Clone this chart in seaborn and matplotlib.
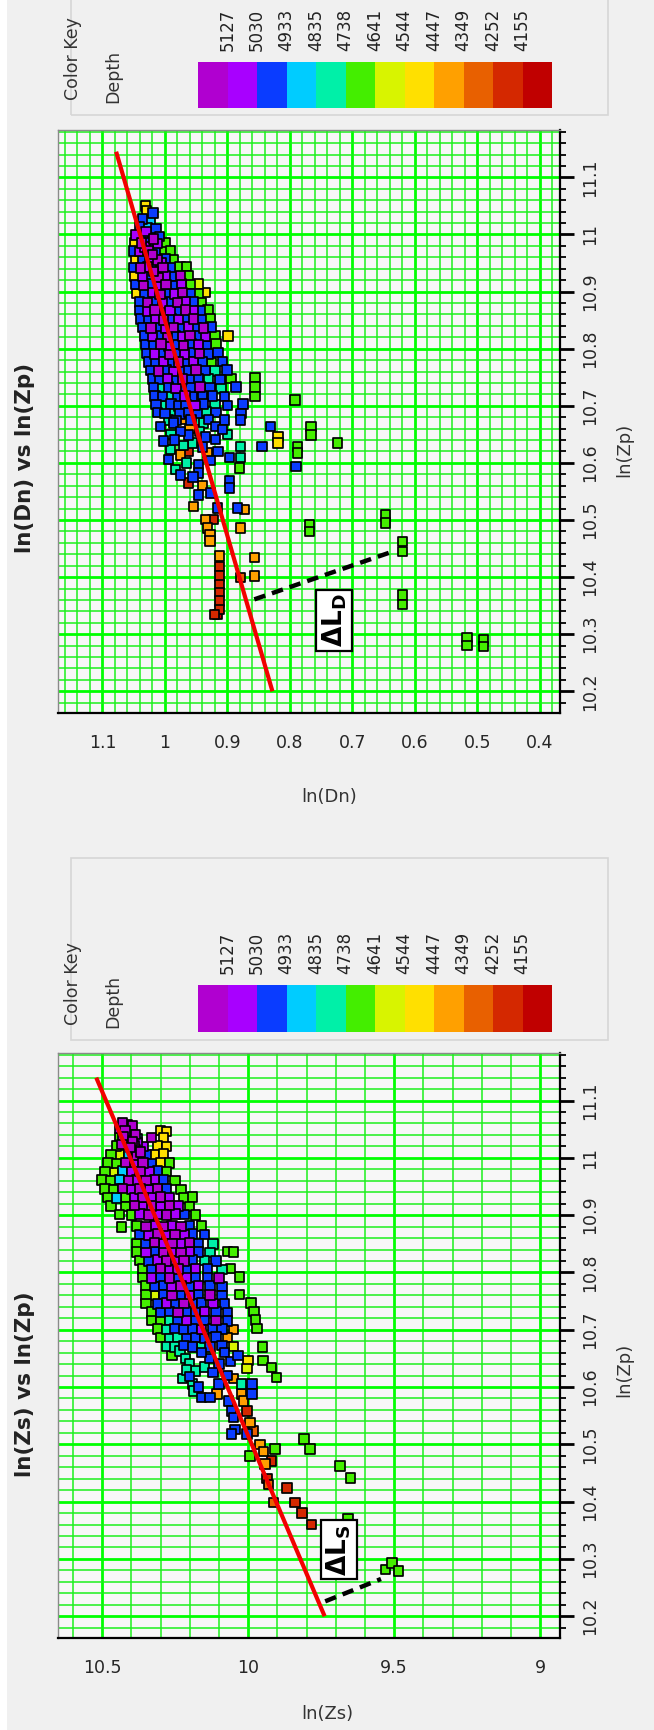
import numpy as np
import pandas as pd
import matplotlib
matplotlib.use("Agg")
import matplotlib.pyplot as plt
from matplotlib.colors import ListedColormap
from matplotlib.patches import Rectangle
from matplotlib.ticker import MultipleLocator, FuncFormatter
import seaborn as sns

W, H = 654, 1730

# ---- colour key: depth class boundaries (deepest first) and colours ----
key_labels = [5127, 5030, 4933, 4835, 4738, 4641, 4544, 4447, 4349, 4252, 4155]
key_colors = ['#b000d0', '#a800ff', '#0a3cff', '#00ccff', '#00f0a8', '#44ee00',
              '#d8f400', '#ffe000', '#ffa000', '#e86000', '#d42800', '#c00000']
# representative depth of each class
M, V, B, C, T, G, YG, Y, O, DO, R, DR = (5175, 5078, 4981, 4884, 4786, 4690,
                                          4592, 4495, 4398, 4300, 4203, 4106)
class_depths = [M, V, B, C, T, G, YG, Y, O, DO, R, DR]

# ---- ln(Dn) vs ln(Zp) samples: (ln Zp, ln Dn, depth) ----
dn_core = [
    (11.050, 1.031, Y),
    (11.041, 1.029, Y), (11.038, 1.019, B),
    (11.027, 1.036, B), (11.024, 1.023, C),
    (11.013, 1.041, B), (11.012, 1.028, C), (11.010, 1.014, B),
    (10.999, 1.046, V), (10.998, 1.034, B), (10.997, 1.022, C), (10.996, 1.009, B),
    (10.986, 1.049, Y), (10.985, 1.037, M), (10.986, 1.025, B), (10.984, 1.012, V), (10.985, 0.999, G),
    (10.971, 1.050, B), (10.970, 1.040, V), (10.972, 1.027, M), (10.970, 1.016, B), (10.969, 1.004, G), (10.971, 0.991, G),
    (10.957, 1.047, Y), (10.956, 1.036, B), (10.958, 1.024, V), (10.955, 1.012, M), (10.957, 1.000, B), (10.956, 0.987, G),
    (10.942, 1.050, B), (10.941, 1.039, M), (10.943, 1.028, V), (10.940, 1.015, B), (10.942, 1.003, M), (10.941, 0.991, B), (10.943, 0.976, G), (10.944, 0.965, G),
    (10.927, 1.048, Y), (10.926, 1.036, V), (10.928, 1.024, B), (10.925, 1.011, M), (10.927, 0.999, V), (10.926, 0.987, B), (10.928, 0.975, M), (10.927, 0.963, G),
    (10.912, 1.046, B), (10.911, 1.034, M), (10.913, 1.022, B), (10.910, 1.010, V), (10.912, 0.998, M), (10.911, 0.986, B), (10.913, 0.973, V), (10.912, 0.959, G), (10.913, 0.946, YG),
    (10.897, 1.045, Y), (10.896, 1.032, B), (10.898, 1.020, V), (10.895, 1.008, M), (10.897, 0.996, B), (10.896, 0.984, V), (10.898, 0.972, M), (10.897, 0.959, B), (10.896, 0.946, G), (10.898, 0.936, Y),
    (10.882, 1.041, B), (10.881, 1.028, M), (10.883, 1.016, B), (10.880, 1.004, V), (10.882, 0.992, B), (10.881, 0.980, M), (10.883, 0.968, V), (10.882, 0.955, B), (10.881, 0.941, G),
    (10.867, 1.040, B), (10.866, 1.028, V), (10.868, 1.016, M), (10.865, 1.004, B), (10.867, 0.992, V), (10.866, 0.980, B), (10.868, 0.967, M), (10.867, 0.955, V), (10.866, 0.943, B), (10.868, 0.931, G),
    (10.852, 1.038, B), (10.851, 1.026, B), (10.853, 1.014, V), (10.850, 1.002, M), (10.852, 0.990, B), (10.851, 0.978, V), (10.853, 0.966, B), (10.852, 0.954, M), (10.851, 0.941, B), (10.853, 0.928, G),
    (10.837, 1.035, B), (10.836, 1.022, M), (10.838, 1.010, B), (10.835, 0.998, V), (10.837, 0.986, M), (10.836, 0.974, B), (10.838, 0.962, V), (10.837, 0.950, B), (10.836, 0.938, M), (10.838, 0.925, B),
    (10.822, 1.032, B), (10.821, 1.020, V), (10.823, 1.008, B), (10.820, 0.996, M), (10.822, 0.984, B), (10.821, 0.972, V), (10.823, 0.960, M), (10.822, 0.948, B), (10.821, 0.935, V), (10.823, 0.920, G), (10.822, 0.899, Y),
    (10.807, 1.030, B), (10.806, 1.018, B), (10.808, 1.006, M), (10.805, 0.994, V), (10.807, 0.982, B), (10.806, 0.970, M), (10.808, 0.958, B), (10.807, 0.946, V), (10.806, 0.933, B), (10.808, 0.918, G),
    (10.792, 1.029, B), (10.791, 1.017, V), (10.793, 1.005, B), (10.790, 0.993, M), (10.792, 0.981, B), (10.791, 0.969, V), (10.793, 0.957, B), (10.792, 0.945, M), (10.791, 0.931, B), (10.793, 0.915, B),
    (10.777, 1.026, B), (10.776, 1.014, B), (10.778, 1.002, V), (10.775, 0.990, B), (10.777, 0.978, M), (10.776, 0.966, B), (10.778, 0.954, V), (10.777, 0.940, B), (10.776, 0.925, G), (10.778, 0.908, B),
    (10.762, 1.022, B), (10.761, 1.010, M), (10.763, 0.998, B), (10.760, 0.986, V), (10.762, 0.974, B), (10.761, 0.962, B), (10.763, 0.950, M), (10.762, 0.936, B), (10.761, 0.920, T), (10.763, 0.901, B),
    (10.747, 1.020, B), (10.746, 1.008, B), (10.748, 0.996, V), (10.745, 0.984, B), (10.747, 0.972, M), (10.746, 0.960, B), (10.748, 0.946, B), (10.747, 0.930, T), (10.746, 0.912, B), (10.748, 0.894, G),
    (10.732, 1.018, B), (10.731, 1.006, T), (10.733, 0.994, B), (10.730, 0.982, V), (10.732, 0.970, B), (10.731, 0.958, B), (10.733, 0.944, M), (10.732, 0.928, B), (10.731, 0.910, T), (10.733, 0.886, B),
    (10.717, 1.016, B), (10.716, 1.004, B), (10.718, 0.992, T), (10.715, 0.980, B), (10.717, 0.968, V), (10.716, 0.956, B), (10.718, 0.940, B), (10.717, 0.924, B), (10.716, 0.905, B),
    (10.702, 1.014, B), (10.701, 1.002, T), (10.703, 0.990, B), (10.700, 0.978, B), (10.702, 0.966, B), (10.701, 0.952, V), (10.703, 0.938, B), (10.702, 0.920, T), (10.701, 0.900, B), (10.703, 0.875, B),
    (10.688, 1.012, B), (10.687, 1.000, B), (10.689, 0.988, T), (10.686, 0.976, B), (10.688, 0.962, B), (10.687, 0.948, B), (10.689, 0.934, T), (10.688, 0.918, B), (10.687, 0.878, B),
    (10.675, 0.994, T), (10.674, 0.982, B), (10.676, 0.970, O), (10.675, 0.958, B), (10.674, 0.945, T), (10.676, 0.930, B), (10.675, 0.905, B),
    # tightly packed samples near the top of the trend
    (11.005, 1.030, V), (10.992, 1.018, M), (10.978, 1.032, V), (10.965, 1.020, M),
    (10.950, 1.006, V), (10.935, 1.018, M),
]
dn_tail = [
    (10.664, 1.007, B), (10.670, 0.986, B), (10.638, 1.002, B), (10.623, 0.991, T),
    (10.614, 0.975, O), (10.620, 0.962, R), (10.606, 0.994, B), (10.588, 0.983, T),
    (10.579, 0.975, B), (10.565, 0.962, R), (10.597, 0.946, B), (10.582, 0.946, B),
    (10.649, 0.962, B), (10.635, 0.956, T), (10.670, 0.938, T), (10.664, 0.919, B),
    (10.641, 0.919, B), (10.658, 0.908, B), (10.675, 0.879, B), (10.609, 0.897, B),
    (10.629, 0.879, T), (10.609, 0.879, T), (10.591, 0.881, G), (10.568, 0.897, B),
    (10.556, 0.897, B), (10.617, 0.932, O), (10.547, 0.927, B), (10.544, 0.946, B),
    (10.655, 0.975, B), (10.650, 0.990, T), (10.640, 0.985, B), (10.630, 0.970, T),
    (10.628, 0.940, B), (10.655, 0.945, T), (10.645, 0.935, B), (10.600, 0.965, T),
    (10.575, 0.955, B), (10.560, 0.940, O), (10.650, 0.900, T), (10.620, 0.915, B),
    (10.660, 0.960, O), (10.604, 0.927, B),
    (10.524, 0.954, O), (10.521, 0.916, B), (10.518, 0.873, O), (10.521, 0.884, B),
    (10.501, 0.935, O), (10.501, 0.923, R), (10.486, 0.932, O), (10.474, 0.928, O),
    (10.463, 0.928, O), (10.486, 0.879, O), (10.437, 0.913, O),
    (10.419, 0.913, R), (10.402, 0.913, R), (10.387, 0.913, R), (10.373, 0.913, R),
    (10.358, 0.913, R), (10.343, 0.913, R), (10.335, 0.921, R), (10.335, 0.916, DR),
    (10.434, 0.857, O), (10.399, 0.879, DO), (10.402, 0.857, O),
]
dn_outliers = [
    (10.750, 0.856, G), (10.733, 0.856, G), (10.716, 0.856, G), (10.710, 0.792, G),
    (10.629, 0.845, B), (10.664, 0.831, B), (10.646, 0.819, Y), (10.635, 0.819, Y),
    (10.629, 0.788, G), (10.617, 0.788, G), (10.594, 0.790, B), (10.664, 0.766, G),
    (10.649, 0.766, G), (10.635, 0.724, G), (10.492, 0.769, G), (10.480, 0.769, G),
    (10.509, 0.647, G), (10.495, 0.647, G), (10.462, 0.620, G), (10.445, 0.620, G),
    (10.369, 0.620, G), (10.352, 0.620, G), (10.294, 0.517, G), (10.280, 0.517, G),
    (10.291, 0.490, G), (10.278, 0.490, G),
]

# ---- ln(Zs) vs ln(Zp) samples: (ln Zp, ln Zs, depth) ----
zs_core = [
    (11.052, 10.425, M), (11.050, 10.405, V), (11.048, 10.300, Y), (11.046, 10.280, Y), (11.055, 10.415, M),
    (11.036, 10.440, G), (11.035, 10.410, M), (11.034, 10.380, C), (11.036, 10.330, M), (11.035, 10.290, Y), (11.040, 10.395, M),
    (11.021, 10.450, G), (11.020, 10.420, Y), (11.022, 10.390, M), (11.020, 10.360, V), (11.021, 10.310, Y), (11.020, 10.280, Y),
    (11.006, 10.470, G), (11.005, 10.440, YG), (11.007, 10.410, C), (11.005, 10.380, M), (11.006, 10.350, B), (11.005, 10.320, Y), (11.007, 10.290, Y),
    (10.991, 10.480, G), (10.990, 10.450, G), (10.992, 10.420, M), (10.990, 10.390, V), (10.991, 10.360, M), (10.990, 10.330, B), (10.992, 10.300, Y), (10.991, 10.270, G),
    (10.976, 10.490, G), (10.975, 10.460, YG), (10.977, 10.430, C), (10.975, 10.400, V), (10.976, 10.370, M), (10.975, 10.340, V), (10.977, 10.310, B), (10.976, 10.280, G),
    (10.961, 10.500, G), (10.960, 10.470, G), (10.962, 10.440, C), (10.960, 10.410, M), (10.961, 10.380, V), (10.960, 10.350, M), (10.962, 10.320, V), (10.961, 10.290, B), (10.960, 10.250, G),
    (10.946, 10.490, G), (10.945, 10.460, G), (10.947, 10.430, M), (10.945, 10.400, V), (10.946, 10.370, M), (10.945, 10.340, V), (10.947, 10.310, M), (10.946, 10.280, B), (10.945, 10.230, G),
    (10.931, 10.480, G), (10.930, 10.450, C), (10.932, 10.420, G), (10.930, 10.390, V), (10.931, 10.360, M), (10.930, 10.330, V), (10.932, 10.300, M), (10.931, 10.270, V), (10.930, 10.220, G), (10.932, 10.190, G),
    (10.916, 10.470, G), (10.915, 10.420, G), (10.917, 10.390, M), (10.915, 10.360, V), (10.916, 10.330, M), (10.915, 10.300, V), (10.917, 10.270, M), (10.916, 10.240, V), (10.915, 10.200, G),
    (10.901, 10.440, G), (10.900, 10.400, G), (10.902, 10.370, V), (10.900, 10.340, M), (10.901, 10.310, V), (10.900, 10.280, M), (10.902, 10.250, V), (10.901, 10.220, B), (10.900, 10.180, G),
    (10.879, 10.433, G), (10.881, 10.380, G), (10.880, 10.350, M), (10.882, 10.320, V), (10.880, 10.290, M), (10.881, 10.260, V), (10.880, 10.230, M), (10.882, 10.200, B), (10.881, 10.160, G),
    (10.866, 10.370, B), (10.865, 10.340, V), (10.867, 10.310, M), (10.865, 10.280, V), (10.866, 10.250, M), (10.865, 10.220, V), (10.867, 10.190, B), (10.866, 10.150, B),
    (10.851, 10.380, G), (10.850, 10.350, B), (10.852, 10.320, M), (10.850, 10.290, V), (10.851, 10.260, M), (10.850, 10.230, V), (10.852, 10.200, M), (10.851, 10.170, B), (10.850, 10.120, T),
    (10.836, 10.380, G), (10.835, 10.350, V), (10.837, 10.320, B), (10.835, 10.290, M), (10.836, 10.260, V), (10.835, 10.230, M), (10.837, 10.200, V), (10.836, 10.170, B), (10.835, 10.130, T), (10.837, 10.070, G), (10.836, 10.050, G),
    (10.821, 10.370, G), (10.820, 10.340, B), (10.822, 10.310, V), (10.820, 10.280, M), (10.821, 10.250, V), (10.820, 10.220, M), (10.822, 10.190, B), (10.821, 10.150, T), (10.820, 10.110, B),
    (10.806, 10.360, G), (10.805, 10.330, B), (10.807, 10.300, M), (10.805, 10.270, V), (10.806, 10.240, M), (10.805, 10.210, B), (10.807, 10.180, V), (10.806, 10.140, B), (10.805, 10.090, T), (10.807, 10.060, G),
    (10.791, 10.360, G), (10.790, 10.330, V), (10.792, 10.300, B), (10.790, 10.270, M), (10.791, 10.240, B), (10.790, 10.210, V), (10.792, 10.180, B), (10.791, 10.140, B), (10.790, 10.100, M), (10.792, 10.030, G),
    (10.776, 10.350, G), (10.775, 10.320, B), (10.777, 10.290, B), (10.775, 10.260, V), (10.776, 10.230, M), (10.775, 10.200, B), (10.777, 10.170, V), (10.776, 10.130, B), (10.775, 10.090, B),
    (10.761, 10.350, G), (10.760, 10.320, YG), (10.762, 10.290, B), (10.760, 10.260, M), (10.761, 10.230, B), (10.760, 10.200, V), (10.762, 10.170, B), (10.761, 10.130, M), (10.760, 10.090, B), (10.762, 10.030, G),
    (10.746, 10.350, G), (10.745, 10.310, B), (10.747, 10.280, V), (10.745, 10.250, B), (10.746, 10.220, M), (10.745, 10.190, B), (10.747, 10.160, B), (10.746, 10.120, V), (10.745, 10.080, B), (10.747, 9.990, G),
    (10.731, 10.330, G), (10.730, 10.300, B), (10.732, 10.270, B), (10.730, 10.240, M), (10.731, 10.210, B), (10.730, 10.180, B), (10.732, 10.150, V), (10.731, 10.110, B), (10.730, 10.070, B), (10.732, 9.980, G),
    (10.716, 10.330, G), (10.715, 10.300, G), (10.717, 10.270, T), (10.715, 10.240, B), (10.716, 10.210, V), (10.715, 10.180, B), (10.717, 10.150, B), (10.716, 10.110, M), (10.715, 10.070, B), (10.717, 9.975, G),
    (10.701, 10.310, G), (10.700, 10.280, T), (10.702, 10.250, B), (10.700, 10.220, B), (10.701, 10.190, B), (10.700, 10.160, V), (10.702, 10.120, B), (10.701, 10.090, B), (10.700, 10.050, O), (10.702, 9.970, G),
    (10.686, 10.300, G), (10.685, 10.270, T), (10.687, 10.240, T), (10.685, 10.210, B), (10.686, 10.180, B), (10.685, 10.150, B), (10.687, 10.110, B), (10.686, 10.070, O),
    (10.671, 10.280, T), (10.670, 10.250, T), (10.672, 10.220, B), (10.670, 10.190, B), (10.671, 10.160, T), (10.670, 10.130, B), (10.672, 10.090, B), (10.671, 10.050, YG), (10.670, 9.950, G),
    # tightly packed samples at the top of the trend
    (11.062, 10.430, M), (11.058, 10.415, V), (11.056, 10.395, M), (11.052, 10.438, V),
    (11.047, 10.422, M), (11.044, 10.402, V), (11.041, 10.385, M), (11.037, 10.428, M),
    (11.032, 10.412, V), (11.029, 10.396, M), (11.026, 10.378, V), (11.023, 10.432, M),
    (11.018, 10.402, M), (11.014, 10.386, V), (11.010, 10.368, M),
]
zs_tail = [
    (10.663, 10.233, T), (10.650, 10.215, T), (10.640, 10.200, T), (10.628, 10.180, T),
    (10.615, 10.225, T), (10.605, 10.190, T), (10.593, 10.188, T), (10.600, 10.170, B),
    (10.582, 10.159, B), (10.582, 10.130, B), (10.605, 10.100, B), (10.588, 10.107, O),
    (10.655, 10.260, G), (10.650, 10.130, B), (10.640, 10.100, B), (10.635, 10.150, T),
    (10.625, 10.120, B), (10.620, 10.070, B), (10.615, 10.050, O), (10.660, 10.080, B),
    (10.660, 10.160, B), (10.645, 10.060, B), (10.630, 10.210, T), (10.618, 10.200, B),
    (10.655, 10.034, B), (10.646, 10.000, Y), (10.632, 10.004, YG),
    (10.605, 10.022, T), (10.605, 9.987, B), (10.588, 9.987, B), (10.588, 10.022, O),
    (10.576, 10.016, O), (10.576, 10.067, B), (10.558, 10.056, B), (10.558, 10.004, R),
    (10.547, 10.050, B), (10.526, 10.045, B), (10.538, 9.993, O), (10.518, 10.056, B),
    (10.518, 10.004, B), (10.523, 9.982, DO), (10.500, 9.959, O), (10.488, 9.948, O),
    (10.492, 9.908, G), (10.480, 9.993, G), (10.466, 9.942, O), (10.471, 9.919, R),
    (10.440, 9.936, R), (10.430, 9.930, DO), (10.424, 9.867, R), (10.398, 9.913, DO),
    (10.398, 9.839, R), (10.380, 9.816, R), (10.360, 9.782, R),
]
zs_outliers = [
    (10.646, 9.949, G), (10.634, 9.919, G), (10.617, 9.902, G),
    (10.509, 9.808, G), (10.492, 9.788, G), (10.462, 9.685, G), (10.441, 9.650, G),
    (10.370, 9.658, G), (10.282, 9.530, G), (10.293, 9.507, G), (10.279, 9.486, G),
]

# ---- trend lines and offset markers ----
dn_fit_zp, dn_fit = [10.200, 11.145], [0.828, 1.078]
zs_fit_zp, zs_fit = [10.200, 11.140], [9.738, 10.520]
dn_gap_zp, dn_gap = [10.361, 10.445], [0.857, 0.635]
zs_gap_zp, zs_gap = [10.226, 10.265], [9.736, 9.545]
dn_tag = (0.729, 10.324)
zs_tag = (9.688, 10.316)


def frame(rows, name):
    return pd.DataFrame(rows, columns=["zp", name, "depth"]).sort_values("depth", kind="stable")


dn_df = frame(dn_core + dn_tail + dn_outliers, "dn")
zs_df = frame(zs_core + zs_tail + zs_outliers, "zs")
palette = dict(zip(class_depths, key_colors))

# ---------------------------------------------------------------- figure
sns.set_theme(style="white")
plt.rcParams["font.family"] = ["DejaVu Sans"]
plt.rcParams["mathtext.fontset"] = "dejavusans"
BG = "#f0f0f0"
fig = plt.figure(figsize=(W / 100, H / 100), dpi=100, facecolor=BG)
fig.patches.append(Rectangle((0, 0), 7 / W, 1, transform=fig.transFigure,
                             facecolor="white", edgecolor="none", zorder=0))


def box(x0, y0, x1, y1):
    """figure-fraction rectangle from pixel corners (y measured from top)"""
    return [x0 / W, 1 - y1 / H, (x1 - x0) / W, (y1 - y0) / H]


fmt = FuncFormatter(lambda v, p: f"{round(v, 3):g}")


def panel(ax, df, col, xlim, xmaj, xmin_step, fit_zp, fit_v, gap_zp, gap_v, tag, sub):
    ax.set_facecolor("#f7f7f7")
    ax.set_xlim(*xlim)
    ax.set_ylim(10.162, 11.183)
    ax.xaxis.set_major_locator(MultipleLocator(xmaj))
    ax.xaxis.set_minor_locator(MultipleLocator(xmin_step))
    ax.yaxis.set_major_locator(MultipleLocator(0.1))
    ax.yaxis.set_minor_locator(MultipleLocator(0.02))
    ax.xaxis.set_major_formatter(fmt)
    ax.yaxis.set_major_formatter(fmt)
    ax.set_axisbelow(True)
    ax.grid(which="major", color="#00ff00", lw=2.0)
    ax.grid(which="minor", color="#1cf01c", lw=1.1)
    ax.yaxis.tick_right()
    ax.tick_params(which="major", length=10, width=2, color="black", labelsize=12.5,
                   direction="out", pad=5)
    ax.tick_params(which="minor", length=4, width=1.3, color="black", direction="out")
    ax.tick_params(axis="y", labelrotation=90)
    for lab in ax.get_yticklabels():
        lab.set_va("center")
    for side in ("top", "left"):
        ax.spines[side].set_color("#8a8a8a")
        ax.spines[side].set_linewidth(1.0)
    for side in ("bottom", "right"):
        ax.spines[side].set_color("black")
        ax.spines[side].set_linewidth(1.6)

    sns.scatterplot(data=df, x=col, y="zp", hue="depth", palette=palette, marker="s",
                    s=46, edgecolor="black", linewidth=1.25, legend=False, ax=ax, zorder=3)
    ax.plot(fit_v, fit_zp, color="#f20000", lw=3.0, zorder=4, solid_capstyle="butt")
    ax.plot(gap_v, gap_zp, color="black", lw=3.2, ls=(0, (2.6, 1.6)), zorder=5)
    ax.text(tag[0], tag[1], r"$\mathbf{\Delta L}_\mathbf{" + sub + "}$", rotation=90,
            ha="center", va="center", fontsize=19, color="black", zorder=6,
            bbox=dict(boxstyle="square,pad=0.14", fc="white", ec="black", lw=1.6))
    ax.set_xlabel("")
    ax.set_ylabel("")


def color_key(y_box, y_bar0, y_bar1, y_text):
    fig.patches.append(Rectangle((71 / W, 1 - y_box[1] / H), 537 / W,
                                 (y_box[1] - y_box[0]) / H, transform=fig.transFigure,
                                 facecolor="none", edgecolor="#d6d6d6", lw=1.2))
    cax = fig.add_axes(box(198, y_bar0, 552, y_bar1))
    sns.heatmap(np.arange(len(key_colors)).reshape(1, -1), cmap=ListedColormap(key_colors),
                vmin=-0.5, vmax=len(key_colors) - 0.5, cbar=False, ax=cax,
                xticklabels=False, yticklabels=False)
    cax.set_xticks(np.arange(1, len(key_colors)))
    cax.set_xticklabels([str(v) for v in key_labels], rotation=90)
    cax.xaxis.tick_top()
    cax.tick_params(axis="x", length=0, pad=8, labelsize=12, colors="#222222")
    cax.set_yticks([])
    fig.text(73 / W, 1 - y_text / H, "Color Key", rotation=90, ha="center", va="bottom",
             fontsize=12.5, color="#333333")
    fig.text(113 / W, 1 - (y_text + 3) / H, "Depth", rotation=90, ha="center", va="bottom",
             fontsize=12.5, color="#333333")


# upper panel: ln(Dn) vs ln(Zp)
ax1 = fig.add_axes(box(58, 130, 560, 713))
panel(ax1, dn_df, "dn", (1.171, 0.368), 0.1, 0.02, dn_fit_zp, dn_fit,
      dn_gap_zp, dn_gap, dn_tag, "D")
color_key((-4, 115), 62, 108, 100)
fig.text(25 / W, 1 - 458 / H, "ln(Dn) vs ln(Zp)", rotation=90, ha="center", va="center",
         fontsize=15.5, fontweight="bold", color="#222222")
fig.text(329 / W, 1 - 797 / H, "ln(Dn)", ha="center", va="center", fontsize=13, color="#333333")
fig.text(624 / W, 1 - 450 / H, "ln(Zp)", rotation=90, ha="center", va="center",
         fontsize=13, color="#333333")

# lower panel: ln(Zs) vs ln(Zp)
ax2 = fig.add_axes(box(58, 1053, 560, 1638))
panel(ax2, zs_df, "zs", (10.651, 8.932), 0.5, 0.1, zs_fit_zp, zs_fit,
      zs_gap_zp, zs_gap, zs_tag, "S")
color_key((858, 1040), 985, 1032, 1025)
fig.text(25 / W, 1 - 1384 / H, "ln(Zs) vs ln(Zp)", rotation=90, ha="center", va="center",
         fontsize=15.5, fontweight="bold", color="#222222")
fig.text(327 / W, 1 - 1714 / H, "ln(Zs)", ha="center", va="center", fontsize=13, color="#333333")
fig.text(624 / W, 1 - 1370 / H, "ln(Zp)", rotation=90, ha="center", va="center",
         fontsize=13, color="#333333")

fig.savefig("out.png", dpi=100, facecolor=BG)
